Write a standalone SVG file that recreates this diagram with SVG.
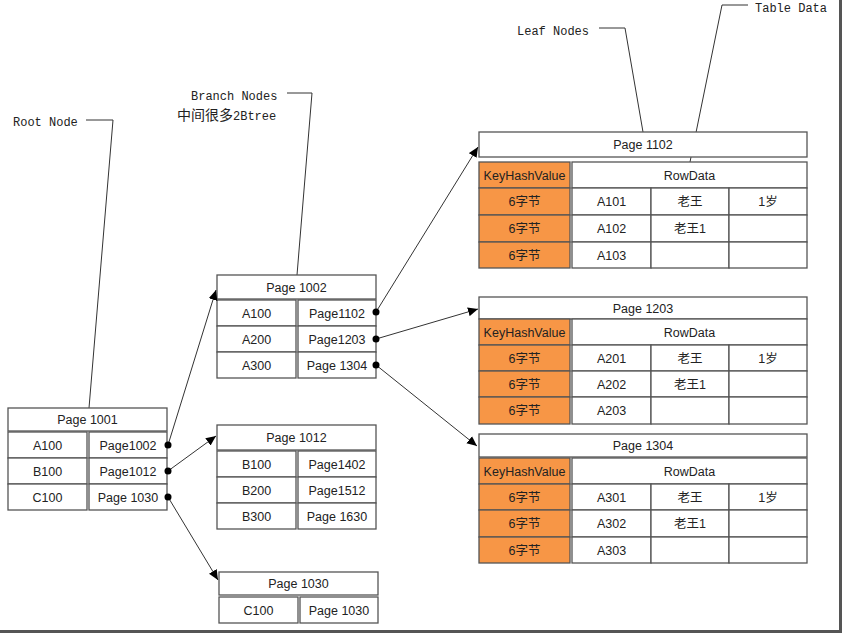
<svg xmlns="http://www.w3.org/2000/svg" width="842" height="633" viewBox="0 0 842 633">
<defs>
<marker id="ah" viewBox="0 0 10 10" refX="10" refY="5" markerWidth="10" markerHeight="10" markerUnits="userSpaceOnUse" orient="auto">
<path d="M0,0.5 L10,5 L0,9.5 z" fill="#000"/>
</marker>
<style>
.c{fill:#fff;stroke:#555;stroke-width:1.3}
.k{fill:#F79646;stroke:#555;stroke-width:1.3}
.t{font-family:"Liberation Sans","Noto Sans CJK SC",sans-serif;font-size:12.5px;fill:#222;text-anchor:middle}
.z{font-family:"Liberation Sans","Noto Sans CJK SC",sans-serif;font-size:12.5px;fill:#222;text-anchor:middle}
.m{font-family:"Liberation Mono","Noto Sans CJK SC",monospace;font-size:12px;fill:#222}
.ln{fill:none;stroke:#333;stroke-width:1}
.ar{fill:none;stroke:#333;stroke-width:1;marker-end:url(#ah)}
</style>
</defs>
<rect width="842" height="633" fill="#fff"/>
<rect x="839" y="0" width="3" height="633" fill="#555"/>
<rect x="0" y="630" width="842" height="3" fill="#555"/>

<g id="labels">
<text class="m" x="13" y="126">Root Node</text>
<polyline class="ln" points="86,120 113,120 89,408"/>
<text class="m" x="191" y="100">Branch Nodes</text>
<text class="m" x="177" y="120"><tspan style="font-size:14px">中间很多</tspan>2Btree</text>
<polyline class="ln" points="287,93 312,93 297,275"/>
<text class="m" x="517" y="35">Leaf Nodes</text>
<polyline class="ln" points="599,28 625,28 643,132"/>
<text class="m" x="755" y="12">Table Data</text>
<polyline class="ln" points="748,5 722,5 690,162"/>
</g>

<g id="root-1001">
<rect class="c" x="8" y="408" width="159" height="23"/>
<text class="t" x="87.5" y="424">Page 1001</text>
<rect class="c" x="8" y="432" width="79" height="26"/><rect class="c" x="89" y="432" width="78" height="26"/>
<rect class="c" x="8" y="458" width="79" height="26"/><rect class="c" x="89" y="458" width="78" height="26"/>
<rect class="c" x="8" y="484" width="79" height="26"/><rect class="c" x="89" y="484" width="78" height="26"/>
<text class="t" x="47.5" y="449.5">A100</text><text class="t" x="128" y="449.5">Page1002</text>
<text class="t" x="47.5" y="475.5">B100</text><text class="t" x="128" y="475.5">Page1012</text>
<text class="t" x="47.5" y="501.5">C100</text><text class="t" x="128" y="501.5">Page 1030</text>
</g>

<g id="branch-1002">
<rect class="c" x="217" y="275" width="159" height="24"/>
<text class="t" x="296.5" y="291.5">Page 1002</text>
<rect class="c" x="217" y="300" width="79" height="26"/><rect class="c" x="298" y="300" width="78" height="26"/>
<rect class="c" x="217" y="326" width="79" height="26"/><rect class="c" x="298" y="326" width="78" height="26"/>
<rect class="c" x="217" y="352" width="79" height="26"/><rect class="c" x="298" y="352" width="78" height="26"/>
<text class="t" x="256.5" y="317.5">A100</text><text class="t" x="337" y="317.5">Page1102</text>
<text class="t" x="256.5" y="343.5">A200</text><text class="t" x="337" y="343.5">Page1203</text>
<text class="t" x="256.5" y="369.5">A300</text><text class="t" x="337" y="369.5">Page 1304</text>
</g>

<g id="branch-1012">
<rect class="c" x="217" y="425" width="159" height="25"/>
<text class="t" x="296.5" y="442">Page 1012</text>
<rect class="c" x="217" y="451" width="79" height="26"/><rect class="c" x="298" y="451" width="78" height="26"/>
<rect class="c" x="217" y="477" width="79" height="26"/><rect class="c" x="298" y="477" width="78" height="26"/>
<rect class="c" x="217" y="503" width="79" height="26"/><rect class="c" x="298" y="503" width="78" height="26"/>
<text class="t" x="256.5" y="468.5">B100</text><text class="t" x="337" y="468.5">Page1402</text>
<text class="t" x="256.5" y="494.5">B200</text><text class="t" x="337" y="494.5">Page1512</text>
<text class="t" x="256.5" y="520.5">B300</text><text class="t" x="337" y="520.5">Page 1630</text>
</g>

<g id="branch-1030">
<rect class="c" x="219" y="572" width="159" height="23"/>
<text class="t" x="298.5" y="588">Page 1030</text>
<rect class="c" x="219" y="597" width="79" height="26"/><rect class="c" x="300" y="597" width="78" height="26"/>
<text class="t" x="258.5" y="614.5">C100</text><text class="t" x="339" y="614.5">Page 1030</text>
</g>

<g id="leaf-1102">
<rect class="c" x="479" y="132" width="328" height="25"/>
<text class="t" x="643" y="149">Page 1102</text>
<rect class="k" x="479" y="162" width="91" height="26"/>
<rect class="k" x="479" y="188" width="91" height="27"/>
<rect class="k" x="479" y="215" width="91" height="27"/>
<rect class="k" x="479" y="242" width="91" height="26"/>
<rect class="c" x="572" y="162" width="235" height="26"/>
<rect class="c" x="572" y="188" width="79" height="27"/><rect class="c" x="651" y="188" width="78" height="27"/><rect class="c" x="729" y="188" width="78" height="27"/>
<rect class="c" x="572" y="215" width="79" height="27"/><rect class="c" x="651" y="215" width="78" height="27"/><rect class="c" x="729" y="215" width="78" height="27"/>
<rect class="c" x="572" y="242" width="79" height="26"/><rect class="c" x="651" y="242" width="78" height="26"/><rect class="c" x="729" y="242" width="78" height="26"/>
<text class="t" x="524.5" y="179.5">KeyHashValue</text><text class="t" x="689.5" y="179.5">RowData</text>
<text class="z" x="524.5" y="206">6字节</text><text class="t" x="611.5" y="206">A101</text><text class="z" x="690" y="206">老王</text><text class="z" x="768" y="206">1岁</text>
<text class="z" x="524.5" y="233">6字节</text><text class="t" x="611.5" y="233">A102</text><text class="z" x="690" y="233">老王1</text>
<text class="z" x="524.5" y="259.5">6字节</text><text class="t" x="611.5" y="259.5">A103</text>
</g>

<g id="leaf-1203">
<rect class="c" x="479" y="297" width="328" height="22"/>
<text class="t" x="643" y="312.5">Page 1203</text>
<rect class="k" x="479" y="319" width="91" height="26"/>
<rect class="k" x="479" y="345" width="91" height="26"/>
<rect class="k" x="479" y="371" width="91" height="26"/>
<rect class="k" x="479" y="397" width="91" height="27"/>
<rect class="c" x="572" y="319" width="235" height="26"/>
<rect class="c" x="572" y="345" width="79" height="26"/><rect class="c" x="651" y="345" width="78" height="26"/><rect class="c" x="729" y="345" width="78" height="26"/>
<rect class="c" x="572" y="371" width="79" height="26"/><rect class="c" x="651" y="371" width="78" height="26"/><rect class="c" x="729" y="371" width="78" height="26"/>
<rect class="c" x="572" y="397" width="79" height="27"/><rect class="c" x="651" y="397" width="78" height="27"/><rect class="c" x="729" y="397" width="78" height="27"/>
<text class="t" x="524.5" y="336.5">KeyHashValue</text><text class="t" x="689.5" y="336.5">RowData</text>
<text class="z" x="524.5" y="362.5">6字节</text><text class="t" x="611.5" y="362.5">A201</text><text class="z" x="690" y="362.5">老王</text><text class="z" x="768" y="362.5">1岁</text>
<text class="z" x="524.5" y="388.5">6字节</text><text class="t" x="611.5" y="388.5">A202</text><text class="z" x="690" y="388.5">老王1</text>
<text class="z" x="524.5" y="415">6字节</text><text class="t" x="611.5" y="415">A203</text>
</g>

<g id="leaf-1304">
<rect class="c" x="479" y="434" width="328" height="23"/>
<text class="t" x="643" y="450">Page 1304</text>
<rect class="k" x="479" y="458" width="91" height="26"/>
<rect class="k" x="479" y="484" width="91" height="26"/>
<rect class="k" x="479" y="510" width="91" height="27"/>
<rect class="k" x="479" y="537" width="91" height="26"/>
<rect class="c" x="572" y="458" width="235" height="26"/>
<rect class="c" x="572" y="484" width="79" height="26"/><rect class="c" x="651" y="484" width="78" height="26"/><rect class="c" x="729" y="484" width="78" height="26"/>
<rect class="c" x="572" y="510" width="79" height="27"/><rect class="c" x="651" y="510" width="78" height="27"/><rect class="c" x="729" y="510" width="78" height="27"/>
<rect class="c" x="572" y="537" width="79" height="26"/><rect class="c" x="651" y="537" width="78" height="26"/><rect class="c" x="729" y="537" width="78" height="26"/>
<text class="t" x="524.5" y="475.5">KeyHashValue</text><text class="t" x="689.5" y="475.5">RowData</text>
<text class="z" x="524.5" y="501.5">6字节</text><text class="t" x="611.5" y="501.5">A301</text><text class="z" x="690" y="501.5">老王</text><text class="z" x="768" y="501.5">1岁</text>
<text class="z" x="524.5" y="528">6字节</text><text class="t" x="611.5" y="528">A302</text><text class="z" x="690" y="528">老王1</text>
<text class="z" x="524.5" y="554.5">6字节</text><text class="t" x="611.5" y="554.5">A303</text>
</g>

<g id="connectors">
<line class="ar" x1="168" y1="445" x2="216" y2="290"/>
<line class="ar" x1="168" y1="471" x2="216" y2="436"/>
<line class="ar" x1="168" y1="497" x2="218" y2="580"/>
<line class="ar" x1="376" y1="312" x2="478" y2="147"/>
<line class="ar" x1="376" y1="339" x2="478" y2="309"/>
<line class="ar" x1="376" y1="365" x2="477" y2="446"/>
<circle cx="168" cy="445" r="3.5" fill="#000"/>
<circle cx="168" cy="471" r="3.5" fill="#000"/>
<circle cx="168" cy="497" r="3.5" fill="#000"/>
<circle cx="376" cy="312" r="3.5" fill="#000"/>
<circle cx="376" cy="339" r="3.5" fill="#000"/>
<circle cx="376" cy="365" r="3.5" fill="#000"/>
</g>
</svg>
